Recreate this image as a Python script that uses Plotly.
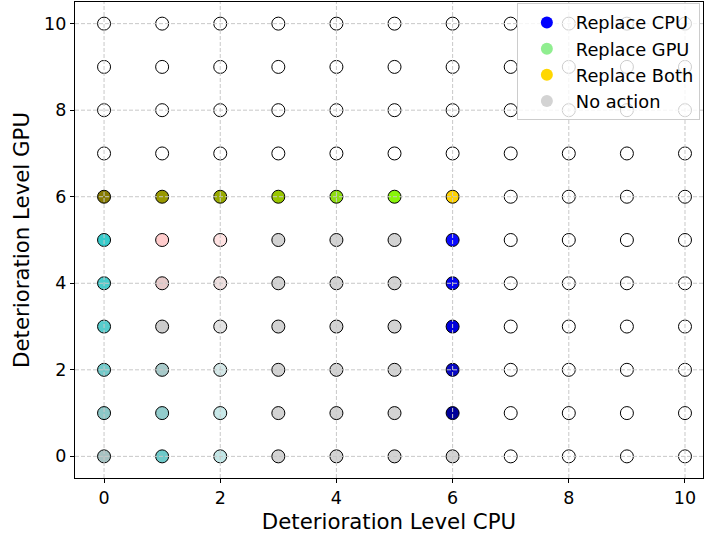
import plotly.graph_objects as go

# Grid of deterioration levels
cpu_levels = list(range(0, 11))
gpu_levels = list(range(0, 11))

# Colour of each point: rows are GPU level 0..10, columns CPU level 0..10
W = "#ffffff"
G = "#d3d3d3"
point_colors = [
    ["#a6c2c2", "#6ecaca", "#c2e6e6", G, G, G, G, W, W, W, W],          # GPU 0
    ["#8cc8c8", "#92cccc", "#c8e8e8", G, G, G, "#00009a", W, W, W, W],  # GPU 1
    ["#72caca", "#a8caca", "#d4e8e8", G, G, G, "#0808c4", W, W, W, W],  # GPU 2
    ["#56cccc", "#cccccc", "#e2e2e2", G, G, G, "#0000dc", W, W, W, W],  # GPU 3
    ["#48cccc", "#e6caca", "#eedfdf", G, G, G, "#0606ee", W, W, W, W],  # GPU 4
    ["#36cccc", "#ffcccc", "#ffe2e2", G, G, G, "#0a0aff", W, W, W, W],  # GPU 5
    ["#857a00", "#989800", "#98aa00", "#99c600", "#8ddc10", "#88f50a", "#ffd200", W, W, W, W],  # GPU 6
    [W] * 11,  # GPU 7
    [W] * 11,  # GPU 8
    [W] * 11,  # GPU 9
    [W] * 11,  # GPU 10
]

legend_labels = ["Replace CPU", "Replace GPU", "Replace Both", "No action"]
legend_colors = ["#0000ff", "#90ee90", "#ffd700", "#d3d3d3"]

tick_vals = [0, 2, 4, 6, 8, 10]

xs, ys, cs = [], [], []
for gi, g in enumerate(gpu_levels):
    for ci, c in enumerate(cpu_levels):
        xs.append(c)
        ys.append(g)
        cs.append(point_colors[gi][ci])

fig = go.Figure()
fig.add_trace(go.Scatter(
    x=xs, y=ys, mode="markers", showlegend=False,
    marker=dict(size=13, color=cs, line=dict(color="black", width=1)),
    hoverinfo="x+y",
))
for lab, col in zip(legend_labels, legend_colors):
    fig.add_trace(go.Scatter(
        x=[None], y=[None], mode="markers", name=lab, legendgroup=lab,
        marker=dict(size=15, color=col, line=dict(width=0)),
    ))

grid_style = dict(color="#c8c8c8", width=1, dash="4px,2px")
shapes = []
for v in tick_vals:
    shapes.append(dict(type="line", xref="x", yref="paper", x0=v, x1=v, y0=0, y1=1,
                       line=grid_style, layer="above"))
    shapes.append(dict(type="line", xref="paper", yref="y", x0=0, x1=1, y0=v, y1=v,
                       line=grid_style, layer="above"))

axis_common = dict(
    showgrid=False, zeroline=False, showline=True, linecolor="black", linewidth=1.2,
    mirror=True, ticks="outside", ticklen=4, tickwidth=1, tickcolor="black",
    tickvals=tick_vals, tickfont=dict(size=17.5, color="black"),
)

fig.update_layout(
    width=705, height=535,
    margin=dict(l=75, r=2, t=2, b=57),
    paper_bgcolor="white", plot_bgcolor="white",
    font=dict(family="DejaVu Sans", color="black"),
    shapes=shapes,
    xaxis=dict(range=[-0.5, 10.31], title=dict(text="Deterioration Level CPU",
               font=dict(size=21.3), standoff=6), **axis_common),
    yaxis=dict(range=[-0.5, 10.5], title=dict(text="Deterioration Level GPU",
               font=dict(size=21.3), standoff=8), **axis_common),
    legend=dict(x=0.995, y=0.997, xanchor="right", yanchor="top",
                bgcolor="rgba(255,255,255,0.8)", bordercolor="#cccccc", borderwidth=1,
                font=dict(size=17.8), itemsizing="constant", tracegroupgap=0,
                itemwidth=48),
)

fig.write_html("out.html", config={"displayModeBar": False},
               post_script="document.body.style.margin='0';document.body.style.padding='0';")
